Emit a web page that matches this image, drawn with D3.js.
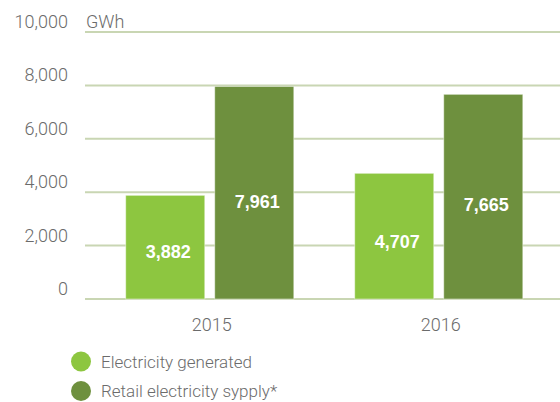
<!DOCTYPE html>
<html>
<head>
<meta charset="utf-8">
<script src="https://cdn.jsdelivr.net/npm/d3@7"></script>
<style>
  html, body { margin: 0; padding: 0; background: #fff; }
  svg { display: block; }
</style>
</head>
<body>
<svg id="chart" width="560" height="402"></svg>
<script>
// Electricity volumes per year, GWh
const years = ["2015", "2016"];
const seriesNames = ["Electricity generated", "Retail electricity sypply*"];
const generated = [3882, 4707];
const retail = [7961, 7665];
const yTicks = [0, 2000, 4000, 6000, 8000, 10000];
const unitLabel = "GWh";
const colors = ["#8dc640", "#6e903e"];

const svg = d3.select("#chart");
const W = 560;
const lightFont = "Roboto, 'Liberation Sans', sans-serif";
const boldFont = "'Liberation Sans', Arial, sans-serif";
const grey = "#6b6b6b";

const rows = years.map((yr, i) => ({ year: yr, values: [generated[i], retail[i]] }));

const y = d3.scaleLinear().domain([0, 10000]).range([299, 32]);

const x0 = d3.scaleBand().domain(years).range([57, 591.5])
  .paddingInner(0.266).paddingOuter(0.3);
const x1 = d3.scaleBand().domain(d3.range(seriesNames.length))
  .range([0, x0.bandwidth()]).paddingInner(0.112);

// Horizontal gridlines
svg.append("g").selectAll("line").data(yTicks).join("line")
  .attr("x1", 85).attr("x2", W)
  .attr("y1", d => y(d)).attr("y2", d => y(d))
  .attr("stroke", "#c9d6b3").attr("stroke-width", 2);

// Tick labels
const fmt = d3.format(",");
svg.append("g").selectAll("text").data(yTicks).join("text")
  .attr("x", 68).attr("y", d => y(d) - 4)
  .attr("text-anchor", "end")
  .style("font-family", lightFont)
  .style("font-size", "18px").style("font-weight", 300)
  .attr("fill", grey)
  .text(d => fmt(d));

svg.append("text")
  .attr("x", 86).attr("y", y(10000) - 4)
  .style("font-family", lightFont)
  .style("font-size", "18px").style("font-weight", 300)
  .attr("fill", grey)
  .text(unitLabel);

// Bars
const groups = svg.append("g").selectAll("g").data(rows).join("g")
  .attr("transform", d => `translate(${x0(d.year)},0)`);

groups.selectAll("rect").data(d => d.values.map((v, k) => ({ v, k }))).join("rect")
  .attr("x", d => x1(d.k))
  .attr("width", x1.bandwidth())
  .attr("y", d => y(d.v))
  .attr("height", d => y(0) - y(d.v))
  .attr("fill", d => colors[d.k])
  .attr("stroke", "rgba(255,255,255,0.45)")
  .attr("stroke-width", 1);

// Value labels, a little below the middle of each bar
groups.selectAll("text.val").data(d => d.values.map((v, k) => ({ v, k }))).join("text")
  .attr("class", "val")
  .attr("x", d => x1(d.k) + x1.bandwidth() / 2 + 3)
  .attr("y", d => y(d.v) + 0.54 * (y(0) - y(d.v)) + 6.5)
  .attr("text-anchor", "middle")
  .style("font-family", boldFont)
  .style("font-size", "18px").style("font-weight", 700)
  .attr("fill", "#fff")
  .text(d => fmt(d.v));

// Year labels
svg.append("g").selectAll("text").data(years).join("text")
  .attr("x", d => x0(d) + x0.bandwidth() / 2 + 2)
  .attr("y", 331)
  .attr("text-anchor", "middle")
  .style("font-family", lightFont)
  .style("font-size", "18px").style("font-weight", 300)
  .attr("fill", grey)
  .text(d => d);

// Legend
const legend = svg.append("g").selectAll("g").data(seriesNames).join("g")
  .attr("transform", (d, i) => `translate(81,${361.5 + i * 29.5})`);
legend.append("circle").attr("r", 10).attr("fill", (d, i) => colors[i]);
legend.append("text")
  .attr("x", 20).attr("y", 6)
  .style("font-family", lightFont)
  .style("font-size", "17px").style("font-weight", 300)
  .attr("fill", grey)
  .text(d => d);
</script>
</body>
</html>
